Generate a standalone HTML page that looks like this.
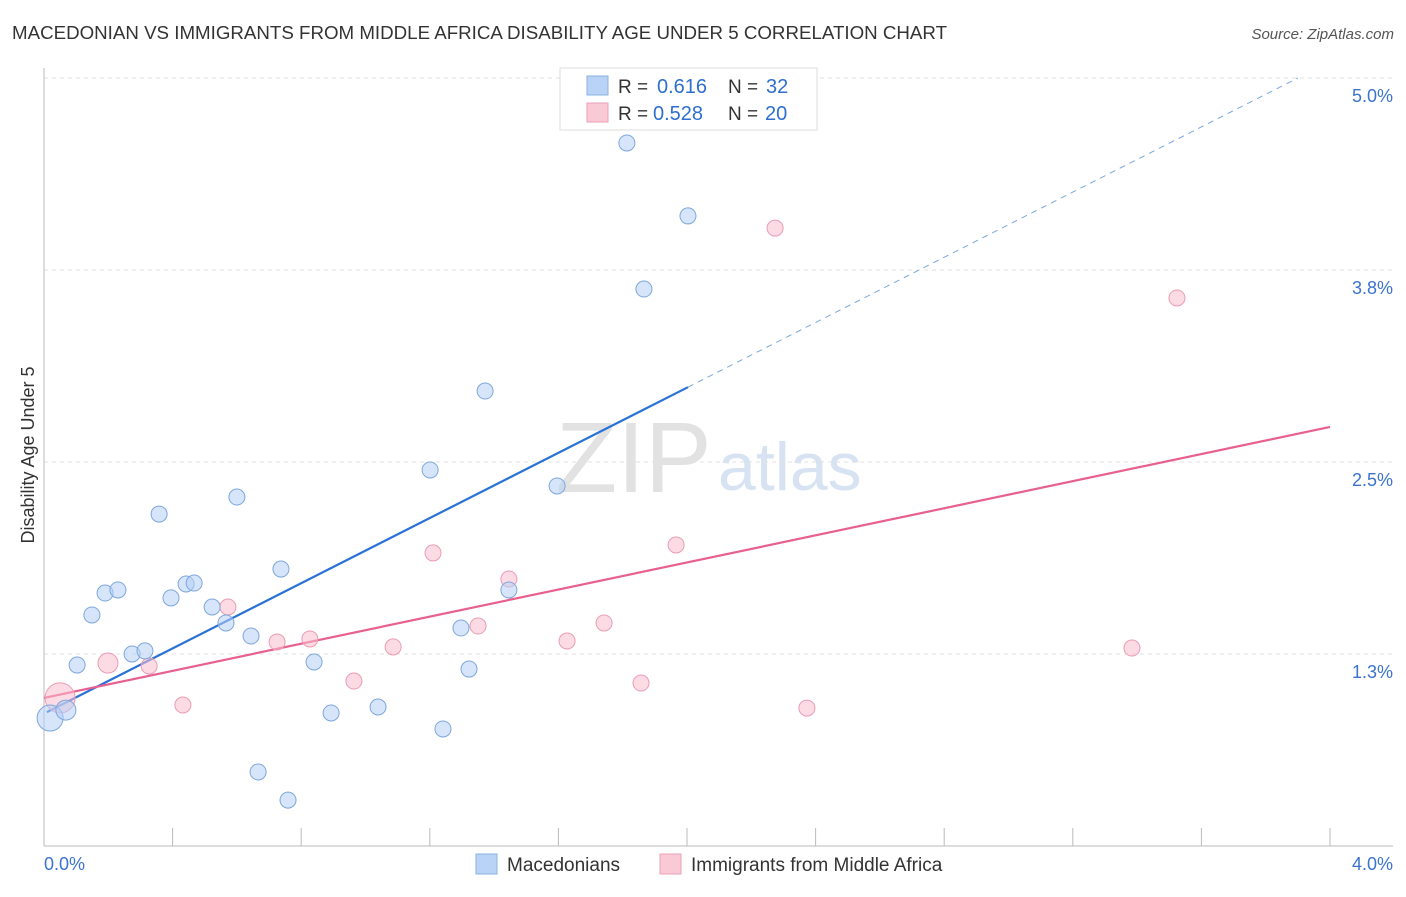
<!DOCTYPE html>
<html><head><meta charset="utf-8"><style>
body{margin:0;background:#fff;font-family:"Liberation Sans",sans-serif;}
svg text{font-family:"Liberation Sans",sans-serif;}
</style></head><body>
<svg id="chart" width="1406" height="892">
<text x="12" y="39" font-size="18" fill="#333" textLength="935" lengthAdjust="spacingAndGlyphs">MACEDONIAN VS IMMIGRANTS FROM MIDDLE AFRICA DISABILITY AGE UNDER 5 CORRELATION CHART</text>
<text x="1394" y="39" font-size="15" fill="#555" font-style="italic" text-anchor="end">Source: ZipAtlas.com</text>
<text x="556" y="492" font-size="100" fill="#e2e2e2" font-family="Liberation Serif">ZIP</text>
<text x="718" y="490" font-size="68" fill="#d7e3f3">atlas</text>
<text x="34" y="455" font-size="18" fill="#333" text-anchor="middle" transform="rotate(-90 34 455)">Disability Age Under 5</text>
<g id="grid"></g><g id="axes"></g><g id="lines"></g><g id="points"></g>
<g>
<rect x="560" y="68" width="257" height="62" fill="#fff" stroke="#ddd"/>
<rect x="587" y="76" width="21" height="19" fill="#b8d3f5" stroke="#8ab0e0"/>
<text x="618" y="93" font-size="19" fill="#333">R = </text><text x="657" y="93" font-size="20" fill="#2f6fcf">0.616</text>
<text x="728" y="93" font-size="19" fill="#333">N = </text><text x="766" y="93" font-size="20" fill="#2f6fcf">32</text>
<rect x="587" y="103" width="21" height="19" fill="#f9c9d6" stroke="#eaa0b6"/>
<text x="618" y="120" font-size="19" fill="#333">R = </text><text x="653" y="120" font-size="20" fill="#2f6fcf">0.528</text>
<text x="728" y="120" font-size="19" fill="#333">N = </text><text x="765" y="120" font-size="20" fill="#2f6fcf">20</text>
</g>
<g>
<rect x="476" y="854" width="21" height="20" fill="#b8d3f5" stroke="#8ab0e0"/>
<text x="507" y="871" font-size="19" fill="#333">Macedonians</text>
<rect x="660" y="854" width="21" height="20" fill="#f9c9d6" stroke="#eaa0b6"/>
<text x="691" y="871" font-size="19" fill="#333">Immigrants from Middle Africa</text>
</g>
</svg>
<script>
const xTicks=[0,0.4,0.8,1.2,1.6,2.0,2.4,2.8,3.2,3.6,4.0];
const yTicks=[1.25,2.5,3.75,5.0];
const yTickLabels=["1.3%","2.5%","3.8%","5.0%"];
const blueX=[0.019,0.068,0.103,0.149,0.190,0.230,0.274,0.314,0.358,0.395,0.442,0.467,0.523,0.566,0.600,0.644,0.666,0.737,0.759,0.840,0.893,1.039,1.201,1.241,1.297,1.322,1.372,1.446,1.596,1.813,1.866,2.003];
const blueY=[0.833,0.885,1.178,1.504,1.647,1.667,1.25,1.270,2.161,1.615,1.706,1.712,1.556,1.452,2.272,1.367,0.482,1.803,0.299,1.198,0.866,0.905,2.448,0.762,1.419,1.152,2.962,1.667,2.344,4.577,3.626,4.102];
const pinkX=[0.050,0.199,0.327,0.432,0.572,0.725,0.827,0.964,1.086,1.210,1.350,1.446,1.627,1.742,1.857,1.966,2.274,2.373,3.384,3.524];
const pinkY=[0.964,1.191,1.172,0.918,1.556,1.328,1.348,1.074,1.296,1.908,1.432,1.738,1.335,1.452,1.061,1.960,4.023,0.898,1.289,3.568];
const blueFit=[0.862,1.061];
const pinkFit=[0.964,0.441];
const sx=v=>44+v*321.5, sy=v=>846-v*153.6;
const NS="http://www.w3.org/2000/svg";
function mk(t,a,p){const e=document.createElementNS(NS,t);for(const k in a)e.setAttribute(k,a[k]);document.getElementById(p).appendChild(e);return e;}
yTicks.forEach((v,i)=>{
 const l=mk('line',{x1:44,x2:1393,y1:sy(v),y2:sy(v),stroke:'#e2e2e2','stroke-dasharray':'4,4'},'grid');
 
 
 const t=mk('text',{x:1393,y:sy(v)+24,'font-size':18,fill:'#3a74d0','text-anchor':'end'},'grid');
 t.textContent=yTickLabels[i];
 
 
});
const ax=mk('line',{x1:44,x2:44,y1:68,y2:846,stroke:'#bbb'},'axes');


const bx=mk('line',{x1:44,x2:1393,y1:846,y2:846,stroke:'#bbb'},'axes');


xTicks.forEach(v=>{
 const l=mk('line',{x1:sx(v),x2:sx(v),y1:828,y2:846,stroke:'#bbb'},'axes');
 
 
});
[[0,'start',44,"0.0%"],[4,'end',1393,"4.0%"]].forEach(d=>{
 const t=mk('text',{x:d[2],y:870,'font-size':18,fill:'#3a74d0','text-anchor':d[1]},'axes');
 t.textContent=d[3];
 
 
});
const bl=mk('line',{x1:sx(0.009),y1:sy(blueFit[0]+blueFit[1]*0.009),x2:sx(2.003),y2:sy(blueFit[0]+blueFit[1]*2.003),stroke:'#2a72d6','stroke-width':2.2},'lines');


const xe=(5.0-blueFit[0])/blueFit[1];
const bd=mk('line',{x1:sx(2.003),y1:sy(blueFit[0]+blueFit[1]*2.003),x2:sx(xe),y2:sy(5.0),stroke:'#7aa6e0','stroke-width':1,'stroke-dasharray':'6,5'},'lines');


const pl=mk('line',{x1:sx(0),y1:sy(pinkFit[0]),x2:sx(4),y2:sy(pinkFit[0]+pinkFit[1]*4),stroke:'#e8608e','stroke-width':2.2},'lines');


pinkX.forEach((v,i)=>{
 const c=mk('circle',{cx:sx(v),cy:sy(pinkY[i]),r:i==0?15:(i==1?10:8),fill:'rgba(249,190,207,0.55)',stroke:'#eb9cb5','stroke-width':1},'points');
 
 
});
blueX.forEach((v,i)=>{
 const c=mk('circle',{cx:sx(v),cy:sy(blueY[i]),r:i==0?13:(i==1?10:8),fill:'rgba(180,208,245,0.55)',stroke:'#7ea7dc','stroke-width':1},'points');
 
 
});
</script>
</body></html>
